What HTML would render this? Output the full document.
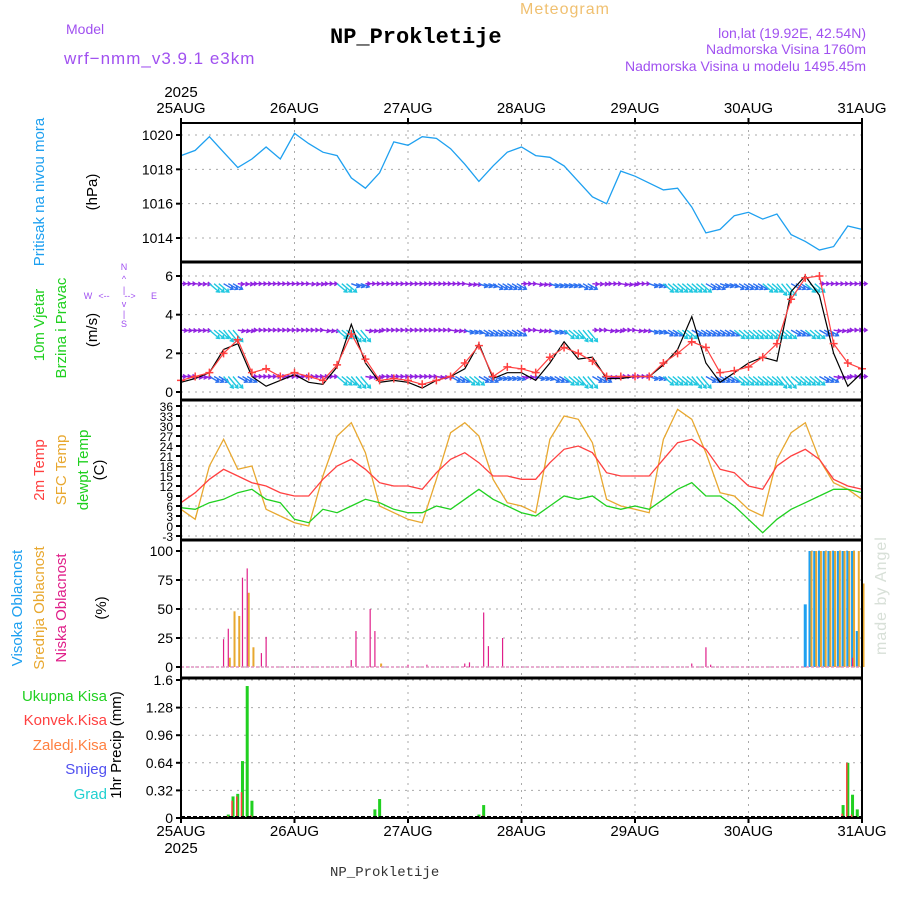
<!DOCTYPE html>
<html><head><meta charset="utf-8">
<style>
body{margin:0;background:#fff;}
svg{display:block;font-family:"Liberation Sans",sans-serif;}
</style></head>
<body>
<svg id="c" width="900" height="900" viewBox="0 0 900 900">
<text x="520" y="14" fill="#f0c070" font-size="16" letter-spacing="1">Meteogram</text>
<text x="66" y="34" fill="#a050f0" font-size="14">Model</text>
<text x="64" y="64" fill="#a050f0" font-size="17" letter-spacing="1">wrf−nmm_v3.9.1  e3km</text>
<text x="330" y="43" fill="#000" font-size="22" font-weight="bold" font-family="Liberation Mono,monospace">NP_Prokletije</text>
<text x="866" y="38" fill="#a050f0" font-size="14" text-anchor="end">lon,lat (19.92E, 42.54N)</text>
<text x="866" y="54" fill="#a050f0" font-size="14" text-anchor="end">Nadmorska Visina 1760m</text>
<text x="866" y="71" fill="#a050f0" font-size="14" text-anchor="end">Nadmorska Visina u modelu 1495.45m</text>
<text x="330" y="876" fill="#333" font-size="14" font-family="Liberation Mono,monospace">NP_Prokletije</text>
<text transform="translate(886,655) rotate(-90)" fill="#d8e0d8" font-size="16" letter-spacing="1">made by Angel</text>
<g id="g"></g>
</svg>
<script>
// ---- data (3-hourly, 25AUG 00 .. 31AUG 00) ----
const days=["25AUG","26AUG","27AUG","28AUG","29AUG","30AUG","31AUG"];
const pressure=[1018.8,1019.1,1019.9,1019.0,1018.1,1018.6,1019.3,1018.6,
1020.1,1019.5,1019.0,1018.8,1017.5,1016.9,1017.8,1019.6,
1019.4,1019.9,1019.8,1019.2,1018.3,1017.3,1018.2,1019.0,
1019.3,1018.8,1018.7,1018.2,1017.3,1016.4,1016.0,1017.9,
1017.6,1017.2,1016.8,1016.9,1015.8,1014.3,1014.5,1015.3,
1015.5,1015.1,1015.4,1014.2,1013.8,1013.3,1013.5,1014.7,1014.5];
const pressTicks=[1014,1016,1018,1020];
const windRed=[0.6,0.8,1.0,2.0,2.7,1.0,1.2,0.8, 1.0,0.8,0.6,1.4,3.0,1.7,0.6,0.7, 0.6,0.4,0.6,0.8,1.5,2.4,0.8,1.3, 1.2,1.0,1.8,2.3,2.0,1.6,0.8,0.8, 0.8,0.8,1.5,2.0,2.6,2.3,1.0,1.1, 1.3,1.8,2.5,4.8,5.9,6.0,2.5,1.5,1.2];
const windBlack=[0.5,0.7,1.0,2.2,2.5,0.8,0.3,0.6, 0.9,0.5,0.4,1.3,3.5,1.5,0.5,0.6, 0.5,0.2,0.6,0.8,1.2,2.5,0.7,1.0, 1.0,0.6,1.5,2.6,1.7,1.8,0.7,0.7, 0.8,0.8,1.4,2.2,3.9,1.5,0.5,1.0, 1.5,1.8,1.6,5.2,6.0,5.0,2.0,0.3,1.0];
const windTicks=[0,2,4,6];
const dirHigh=[200,205,240,230,205,200,200,200, 200,205,200,240,220,200,200,200, 200,200,200,200,210,220,230,230, 200,210,220,220,230,205,200,210, 200,220,240,240,240,230,220,230, 230,240,250,230,240,200,200,200,200];
const dirMid=[205,205,240,250,210,200,200,200, 200,200,210,240,250,210,200,200, 200,200,200,210,220,230,230,230, 200,210,220,240,250,200,210,200, 210,220,230,240,230,230,230,240, 240,240,240,230,240,230,210,200,200];
const dirLow=[200,210,230,250,230,200,200,200, 200,200,200,240,250,210,200,200, 200,200,210,230,240,230,220,220, 210,220,230,240,250,230,210,200, 200,220,240,240,250,230,230,240, 240,240,250,240,240,230,210,200,200];
const t2m=[7,10,14,17,15,13,12,10, 9,9,14,18,20,17,13,12, 12,11,16,20,22,19,15,15, 14,14,19,23,24,22,16,15, 15,15,20,25,26,23,17,16, 12,11,18,21,23,20,14,12,11];
const tsfc=[5,2,18,26,17,18,5,3, 1,0,15,27,31,22,6,4, 2,1,14,28,31,27,14,7, 6,4,26,33,32,25,8,6, 5,4,26,35,32,22,10,9, 5,3,20,28,31,20,13,11,8];
const tdew=[5.5,5,7,8,10,11,8,7, 2,1,5,4,6,8,7,5, 4,4,6,5,8,11,8,6, 4,3,6,9,8,9,6,5, 6,5,8,11,13,9,9,6, 2,-2,2,5,7,9,11,11,10];
const tempTicks=[-3,0,3,6,9,12,15,18,21,24,27,30,33,36];
const cloudHighHours=[132,133,134,135,136,137,138,139,140,141,142,143];
const cloudHighVals=[54,100,100,100,100,100,100,100,100,100,100,31];
const cloudMidHours=[10,11,12,14,15,42,133,134,135,136,137,138,139,140,141,142,143,144];
const cloudMidVals=[8,48,44,64,17,3,100,100,100,100,100,100,100,100,100,100,100,72];
const cloudLowHours=[9,10,13,14,17,18,36,37,40,41,48,52,60,61,64,65,68,108,111,112,142];
const cloudLowVals=[24,33,77,85,12,26,6,31,50,31,2,2,3,4,47,18,25,3,17,2,8];
const cloudTicks=[0,25,50,75,100];
const precipHours=[10,11,12,13,14,15,41,42,62,63,64,140,141,142,143];
const precipTotal=[0.04,0.25,0.28,0.66,1.53,0.2,0.1,0.22,0.01,0.04,0.15,0.15,0.64,0.27,0.1];
const precipConv=[0.02,0.2,0.25,0.3,0.0,0.03,0,0,0,0,0.03,0.05,0.64,0.04,0];
const precipTicks=[0,0.32,0.64,0.96,1.28,1.6];

// ---- layout ----
const X0=181,X1=862,NH=144;
const xh=h=>X0+(X1-X0)*h/NH;
const x3=i=>xh(i*3);
const P={p:{top:123,bot:262,y0:238,v0:1014,y1:135,v1:1020},
 w:{top:262,bot:400,y0:392,v0:0,y1:276,v1:6},
 t:{top:400,bot:540,y0:536,v0:-3,y1:406,v1:36},
 c:{top:540,bot:678,y0:667,v0:0,y1:551,v1:100},
 r:{top:678,bot:818,y0:818,v0:0,y1:680,v1:1.6}};
const ys=(k,v)=>{const a=P[k];return a.y0+(v-a.v0)*(a.y1-a.y0)/(a.v1-a.v0);};
const NS="http://www.w3.org/2000/svg";
const G=document.getElementById('g');
function el(t,at,par){const e=document.createElementNS(NS,t);for(const k in at)e.setAttribute(k,at[k]);(par||G).appendChild(e);return e;}
function txt(x,y,s,at){const e=el('text',Object.assign({x:x,y:y},at));e.textContent=s;return e;}

for(const k in P){const a=P[k];
 for(let d=1;d<6;d++){const g=el('line',{x1:xh(d*24),x2:xh(d*24),y1:a.top,y2:a.bot,stroke:'#aaa','stroke-dasharray':'2,5'});
 
 }
}
function hgrid(k,ticks){ticks.forEach(v=>{const y=ys(k,v);
 const g=el('line',{x1:X0,x2:X1,y1:y,y2:y,stroke:'#aaa','stroke-dasharray':'2,5'});
 
 
 el('line',{x1:X0-5,x2:X0,y1:y,y2:y,stroke:'#000','stroke-width':2});
 const t=txt(X0-8,y+5,String(v),{'font-size':k==='t'?12:14,'text-anchor':'end',fill:'#000'});
 
 });}
hgrid('p',pressTicks);hgrid('w',windTicks);hgrid('t',tempTicks);hgrid('c',cloudTicks);hgrid('r',precipTicks);
days.forEach((d,i)=>{const x=xh(i*24);
 const a=txt(x,113,d,{'font-size':15,'text-anchor':'middle'});
 const b=txt(x,836,d,{'font-size':15,'text-anchor':'middle'});
 el('line',{x1:x,x2:x,y1:118,y2:123,stroke:'#000','stroke-width':2});
 el('line',{x1:x,x2:x,y1:818,y2:823,stroke:'#000','stroke-width':2});});
txt(X0,97,'2025',{'font-size':15,'text-anchor':'middle'});
txt(X0,853,'2025',{'font-size':15,'text-anchor':'middle'});

function line(k,arr,col,name,w){const d=arr.map((v,i)=>(i?'L':'M')+x3(i).toFixed(1)+','+ys(k,v).toFixed(1)).join('');
 const p=el('path',{d:d,fill:'none',stroke:col,'stroke-width':w||1.3});
 
 return p;}
line('p',pressure,'#1ea0f0','pressure-line');

// wind arrows: each 3h direction drawn at the 3 hourly slots it covers
const rows=[[5.6,dirHigh],[3.2,dirMid],[0.8,dirLow]];
rows.forEach(([lev,dirs])=>{dirs.forEach((dg,i)=>{
 for(let s=0;s<3;s++){const h=i*3+s;if(h>NH)break;
  const x=xh(h),y=ys('w',lev);
  const ang=(dg-200)*Math.PI/180;
  const L=5+(dg-200)/5;
  const col=dg>=235?'#20c8e0':(dg>=215?'#2a70f0':'#9020e0');
  const x2=x+L*Math.cos(ang),y2=y+L*Math.sin(ang);
  const hx=Math.cos(ang),hy=Math.sin(ang);
  const a=el('path',{d:`M${x.toFixed(1)},${y.toFixed(1)}L${x2.toFixed(1)},${y2.toFixed(1)}M${(x2-3*hx-2*hy).toFixed(1)},${(y2-3*hy+2*hx).toFixed(1)}L${x2.toFixed(1)},${y2.toFixed(1)}L${(x2-3*hx+2*hy).toFixed(1)},${(y2-3*hy-2*hx).toFixed(1)}`,stroke:col,'stroke-width':1.4,fill:'none'});
  
  
 }});});
line('w',windBlack,'#000','wind-speed-black',1.2);
line('w',windRed,'#ff4040','wind-speed-red',1.2);
windRed.forEach((v,i)=>{const x=x3(i),y=ys('w',v);
 const m=el('path',{d:`M${x-4},${y}H${x+4}M${x},${y-4}V${y+4}`,stroke:'#ff4040','stroke-width':1.5});
 
 });

line('t',tsfc,'#e8a830','sfc-temp-line');
line('t',t2m,'#ff4040','2m-temp-line');
line('t',tdew,'#20d020','dewpoint-line');

function bars(k,hours,vals,col,w,off,name){hours.forEach((h,i)=>{const x=xh(h)+off,y=ys(k,vals[i]),y0=ys(k,0);
 const b=el('rect',{x:x-w/2,y:Math.min(y,y0),width:w,height:Math.abs(y0-y),fill:col});
 
 });}
bars('c',cloudHighHours,cloudHighVals,'#1ea0f0',3,0,'high-cloud-bar');
bars('c',cloudMidHours,cloudMidVals,'#e8a830',2,1.5,'mid-cloud-bar');
bars('c',cloudLowHours,cloudLowVals,'#e0208a',1.2,0,'low-cloud-bar');
el('line',{x1:X0,x2:X1,y1:667,y2:667,stroke:'#e090c0','stroke-width':1.5,'stroke-dasharray':'3,2'});
bars('r',precipHours,precipTotal,'#20d020',3,0,'total-precip-bar');
bars('r',precipHours,precipConv,'#ff4040',1.5,-1,'convective-precip-bar');
el('line',{x1:X0,x2:X1,y1:817,y2:817,stroke:'#000','stroke-width':2,'stroke-dasharray':'4,2'});

for(const k in P){const a=P[k];el('rect',{x:X0,y:a.top,width:X1-X0,height:a.bot-a.top,fill:'none',stroke:'#000','stroke-width':2});}
[262,400,540,678].forEach(y=>el('line',{x1:X0,x2:X1,y1:y,y2:y,stroke:'#000','stroke-width':3}));

function vt(x,y,s,col,fs){const t=txt(0,0,s,{transform:`translate(${x},${y}) rotate(-90)`,'text-anchor':'middle',fill:col,'font-size':fs||15});
 return t;}
vt(44,192,'Pritisak na nivou mora','#1ea0f0');vt(97,192,'(hPa)','#000');
vt(44,325,'10m Vjetar','#20d020');vt(66,328,'Brzina i Pravac','#20d020');vt(97,330,'(m/s)','#000');
vt(44,470,'2m Temp','#ff4040');vt(66,470,'SFC Temp','#e8a830');vt(88,470,'dewpt Temp','#20d020');vt(104,470,'(C)','#000');
vt(22,608,'Visoka Oblacnost','#1ea0f0');vt(44,608,'Srednja Oblacnost','#e8a830');vt(66,608,'Niska Oblacnost','#e0208a');vt(106,608,'(%)','#000');
vt(121,745,'1hr Precip (mm)','#000');
[['Ukupna Kisa','#20d020',701],['Konvek.Kisa','#ff4040',725],['Zaledj.Kisa','#ff8040',750],['Snijeg','#5050f0',774],['Grad','#20d0d0',799]].forEach(([s,c,y])=>{
 const t=txt(107,y,s,{fill:c,'font-size':15,'text-anchor':'end'});});
const cp=[['N',124,270],['^',124,282],['|',124,293],['W',88,299],['<--',104,299],['-->',130,299],['E',154,299],['v',124,307],['|',124,317],['S',124,327]];
cp.forEach(([s,x,y])=>{const t=txt(x,y,s,{fill:'#a050f0','font-size':9,'text-anchor':'middle'});});
</script>
</body></html>
